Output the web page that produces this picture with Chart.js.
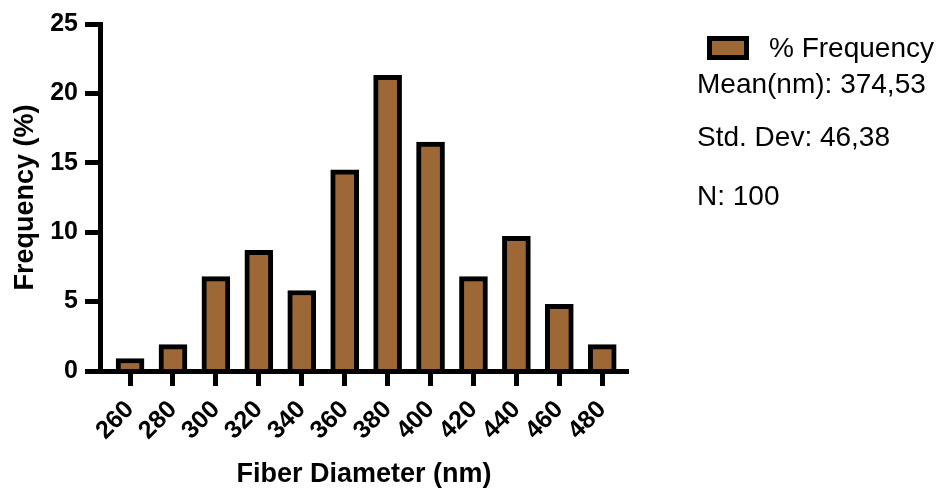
<!DOCTYPE html>
<html>
<head>
<meta charset="utf-8">
<script src="https://cdn.jsdelivr.net/npm/chart.js@4/dist/chart.umd.min.js"></script>
<style>
  html, body { margin: 0; padding: 0; background: #fff; }
  #wrap { position: relative; width: 936px; height: 488px; }
</style>
</head>
<body>
<div id="wrap"><canvas id="fiberChart" width="936" height="488"></canvas></div>
<script>
const diameters = [260, 280, 300, 320, 340, 360, 380, 400, 420, 440, 460, 480];
const frequency = [0.9, 1.9, 6.8, 8.7, 5.8, 14.5, 21.3, 16.5, 6.8, 9.7, 4.8, 1.9];
const yTicks = [0, 5, 10, 15, 20, 25];
const legendLabel = '% Frequency';
const statLines = ['Mean(nm): 374,53', 'Std. Dev: 46,38', 'N: 100'];

const FONT = "'Liberation Sans', Arial, Helvetica, sans-serif";
const BROWN = '#9d6836';

Chart.defaults.color = '#000';
Chart.defaults.font.family = FONT;

// legend swatch + summary text on the right
const statsPlugin = {
    id: 'stats',
    afterDraw(chart) {
        const ctx = chart.ctx;
        const x0 = chart.chartArea.right + 79;
        ctx.save();
        ctx.fillStyle = BROWN;
        ctx.fillRect(x0, 36, 42, 24);
        ctx.lineWidth = 5;
        ctx.strokeStyle = '#000';
        ctx.strokeRect(x0 + 2.5, 38.5, 37, 19);
        ctx.fillStyle = '#000';
        ctx.font = '28px ' + FONT;
        ctx.textBaseline = 'middle';
        ctx.fillText(legendLabel, x0 + 62, 49);
        const rows = [85, 138, 197];
        statLines.forEach((t, i) => ctx.fillText(t, x0 - 10, rows[i]));
        ctx.restore();
    }
};

new Chart(document.getElementById('fiberChart').getContext('2d'), {
    type: 'bar',
    data: {
        datasets: [{
            label: legendLabel,
            data: diameters.map((d, i) => ({ x: d, y: frequency[i] })),
            backgroundColor: BROWN,
            borderColor: '#000',
            borderWidth: 5,
            borderSkipped: 'start',
            barThickness: 28
        }]
    },
    options: {
        responsive: false,
        animation: false,
        layout: { padding: { top: 24, right: 308, left: 0, bottom: 0 } },
        plugins: { legend: { display: false }, tooltip: { enabled: false } },
        scales: {
            x: {
                type: 'linear',
                min: 246, max: 492,
                offset: false,
                afterBuildTicks: axis => { axis.ticks = diameters.map(v => ({ value: v })); },
                afterFit: axis => { axis.height = 117; },
                grid: { offset: false, drawOnChartArea: false, drawTicks: true, tickLength: 15, tickWidth: 5, tickColor: '#000' },
                border: { display: true, color: '#000', width: 5, z: 1 },
                ticks: {
                    minRotation: 45, maxRotation: 45, padding: 9,
                    font: { size: 25, weight: 'bold' },
                    callback: v => String(v)
                },
                title: {
                    display: true, text: 'Fiber Diameter (nm)',
                    font: { size: 27, weight: 'bold', lineHeight: 1 },
                    padding: { top: 0, bottom: 0 }
                }
            },
            y: {
                min: 0, max: 25,
                afterBuildTicks: axis => { axis.ticks = yTicks.map(v => ({ value: v })); },
                afterFit: axis => { axis.width = 100; },
                grid: { drawOnChartArea: false, drawTicks: true, tickLength: 15, tickWidth: 5, tickColor: '#000' },
                border: { display: true, color: '#000', width: 5, z: 1 },
                ticks: { padding: 7, font: { size: 25, weight: 'bold' } },
                title: {
                    display: true, text: 'Frequency (%)',
                    font: { size: 27, weight: 'bold', lineHeight: 1 },
                    padding: { top: 12, bottom: 0 }
                }
            }
        }
    },
    plugins: [statsPlugin]
});
</script>
</body>
</html>
